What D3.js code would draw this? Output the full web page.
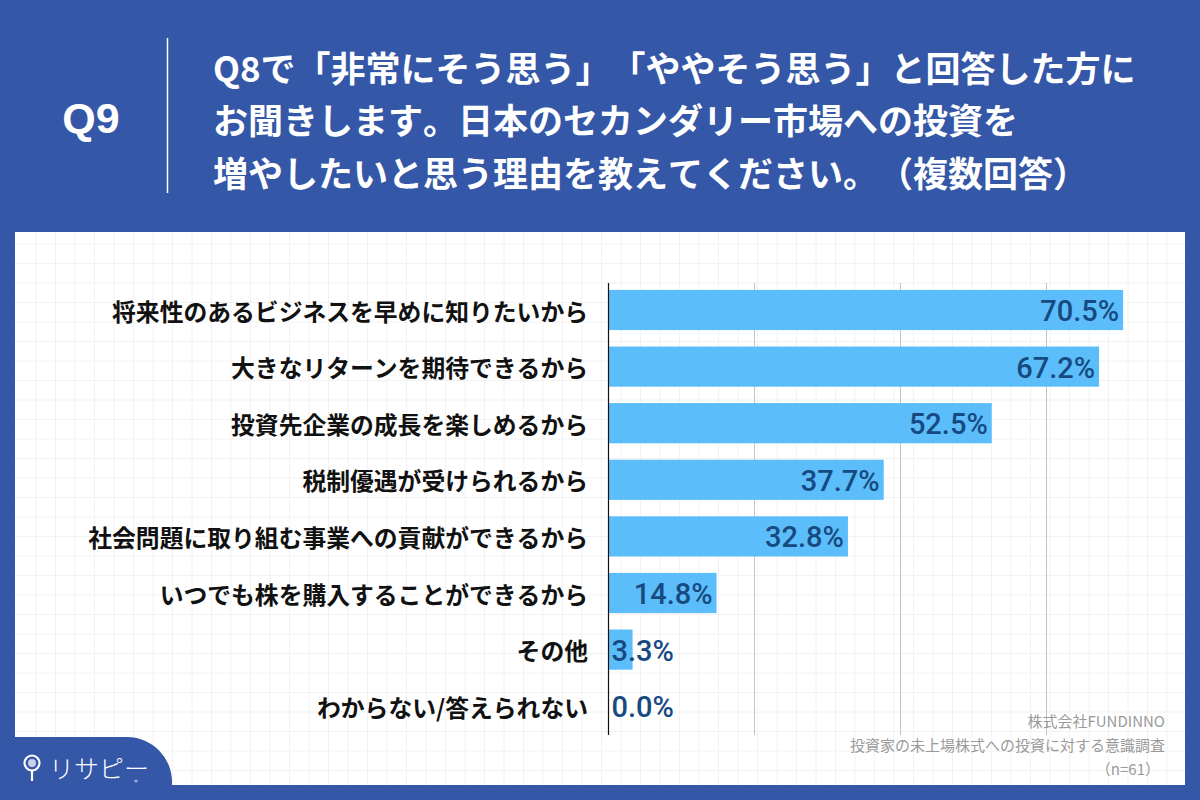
<!DOCTYPE html>
<html><head><meta charset="utf-8">
<script src="https://cdn.jsdelivr.net/npm/d3@7"></script>
<style>
html,body{margin:0;padding:0;background:#3457a7;}
svg{display:block;}
svg text{text-spacing-trim: space-all; font-kerning: none;}
</style></head>
<body>
<script>
const categories = [
  "将来性のあるビジネスを早めに知りたいから",
  "大きなリターンを期待できるから",
  "投資先企業の成長を楽しめるから",
  "税制優遇が受けられるから",
  "社会問題に取り組む事業への貢献ができるから",
  "いつでも株を購入することができるから",
  "その他",
  "わからない/答えられない"
];
const values = [70.5, 67.2, 52.5, 37.7, 32.8, 14.8, 3.3, 0.0];
const gridTicks = [20, 40, 60];
const titleLines = [
  "Q8で「非常にそう思う」「ややそう思う」と回答した方に",
  "お聞きします。日本のセカンダリー市場への投資を",
  "増やしたいと思う理由を教えてください。（複数回答）"
];
const sourceLines = ["株式会社FUNDINNO", "投資家の未上場株式への投資に対する意識調査", "（n=61）"];

const W = 1200, H = 800;
const BLUE = "#3457a7";
const jp = "'Noto Sans CJK JP','Noto Sans',sans-serif";
const latin = "'Liberation Sans',Arial,'Noto Sans CJK JP',sans-serif";
const num = "Roboto,'Liberation Sans',Arial,sans-serif";

const svg = d3.select("body").append("svg").attr("width", W).attr("height", H);
svg.append("rect").attr("width", W).attr("height", H).attr("fill", BLUE);

// header
svg.append("text").attr("x", 91).attr("y", 118).attr("text-anchor", "middle")
  .attr("dominant-baseline", "central").attr("fill", "#fff")
  .attr("font-family", latin).attr("font-weight", "bold").attr("font-size", 43).text("Q9");
svg.append("line").attr("x1", 167.5).attr("x2", 167.5).attr("y1", 38).attr("y2", 193)
  .attr("stroke", "#fff").attr("stroke-width", 1.5);
svg.selectAll("text.title").data(titleLines).join("text").attr("class", "title")
  .attr("x", 213).attr("y", (d, i) => 66 + i * 52.5)
  .attr("dominant-baseline", "central").attr("fill", "#fff")
  .attr("font-family", jp).attr("font-weight", "bold").attr("font-size", 35)
  .text(d => d);

// panel
svg.append("rect").attr("x", 15).attr("y", 232).attr("width", 1170).attr("height", 553).attr("fill", "#fff");
// faint graph paper
const paper = svg.append("g").attr("stroke", "#f2f2f2").attr("stroke-width", 1);
d3.range(36, 1185, 19.5).forEach(x => paper.append("line").attr("x1", x).attr("x2", x).attr("y1", 232).attr("y2", 785));
d3.range(244, 785, 19.5).forEach(y => paper.append("line").attr("x1", 15).attr("x2", 1185).attr("y1", y).attr("y2", y));

// scales
const x = d3.scaleLinear().domain([0, 80]).range([608.5, 608.5 + 80 * 7.3]);
const y = d3.scaleBand().domain(categories).range([281.7, 734.5]).paddingInner(0.29).paddingOuter(0.145);

// grid lines
svg.append("g").selectAll("line").data(gridTicks).join("line")
  .attr("x1", d => x(d)).attr("x2", d => x(d)).attr("y1", 283).attr("y2", 735)
  .attr("stroke", "#c4c4c4").attr("stroke-width", 1);

// bars
svg.append("g").selectAll("rect").data(values).join("rect")
  .attr("x", x(0)).attr("y", (d, i) => y(categories[i]))
  .attr("width", d => x(d) - x(0)).attr("height", y.bandwidth())
  .attr("fill", "#5bbefb");

// axis line
svg.append("line").attr("x1", 608.5).attr("x2", 608.5).attr("y1", 283).attr("y2", 735)
  .attr("stroke", "#111").attr("stroke-width", 1.2);

// category labels
svg.append("g").selectAll("text").data(categories).join("text")
  .attr("x", 588).attr("y", d => y(d) + y.bandwidth() / 2)
  .attr("text-anchor", "end").attr("dominant-baseline", "central")
  .attr("font-family", jp).attr("font-weight", "bold").attr("font-size", 23.8)
  .attr("fill", "#111").text(d => d);

// value labels
svg.append("g").selectAll("text").data(values).join("text")
  .each(function(d, i) {
    const inside = (x(d) - x(0)) > 95;
    d3.select(this)
      .attr("x", inside ? x(d) - 4 : x(0) + 3)
      .attr("text-anchor", inside ? "end" : "start");
  })
  .attr("y", (d, i) => y(categories[i]) + y.bandwidth() / 2 + 1)
  .attr("dominant-baseline", "central")
  .attr("font-family", num).attr("font-weight", 500).attr("font-size", 29).attr("fill", "#174a80")
  .text(d => d.toFixed(1) + "%");

// source
svg.append("g").selectAll("text").data(sourceLines).join("text")
  .attr("x", (d, i) => i === 2 ? 1160 : 1165).attr("y", (d, i) => 720 + i * 24)
  .attr("text-anchor", "end").attr("dominant-baseline", "central")
  .attr("font-family", jp).attr("font-size", 15).attr("fill", "#9a9a9a").text(d => d);

// bottom-left tab
svg.append("path").attr("d", "M0,737 H127 A45,45 0 0 1 172,782 V800 H0 Z").attr("fill", BLUE);
// logo pin
const logo = svg.append("g");
logo.append("circle").attr("cx", 32).attr("cy", 763).attr("r", 7.5).attr("fill", "none").attr("stroke", "#fff").attr("stroke-width", 2.2);
logo.append("circle").attr("cx", 32).attr("cy", 763).attr("r", 4).attr("fill", "#c9d2e6");
logo.append("line").attr("x1", 32).attr("x2", 32).attr("y1", 771).attr("y2", 781).attr("stroke", "#fff").attr("stroke-width", 2.2);
logo.append("text").attr("x", 49).attr("y", 767).attr("dominant-baseline", "central")
  .attr("font-family", jp).attr("font-weight", 300).attr("font-size", 25).attr("fill", "#fff").text("リサピー");
logo.append("circle").attr("cx", 136).attr("cy", 781).attr("r", 1.6).attr("fill", "#9fb0d6");
</script>
</body></html>
